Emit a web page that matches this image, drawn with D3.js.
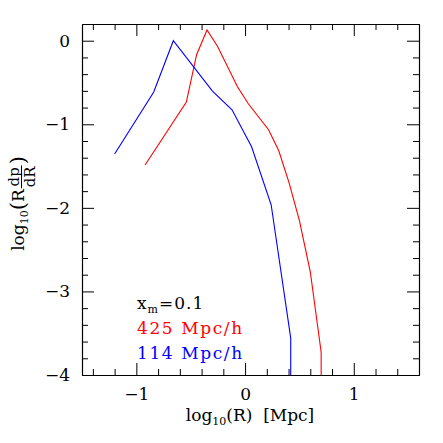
<!DOCTYPE html>
<html>
<head>
<meta charset="utf-8">
<script src="https://cdn.jsdelivr.net/npm/d3@7"></script>
<style>
  html, body { margin: 0; padding: 0; background: #fff; }
  text { font-family: "DejaVu Serif", "Liberation Serif", serif; fill: #000; }
</style>
</head>
<body>
<svg id="chart" width="443" height="443"></svg>
<script>
// ---- data ----
const redX  = [-0.92, -0.54, -0.446, -0.35, -0.255, -0.07, 0.03, 0.216, 0.31, 0.405, 0.50, 0.60, 0.70, 0.70];
const redY  = [-1.488, -0.734, -0.168, 0.128, -0.063, -0.551, -0.754, -1.065, -1.317, -1.70, -2.154, -2.765, -3.728, -4.0];
const blueX = [-1.2, -0.84, -0.66, -0.30, -0.12, 0.06, 0.24, 0.42, 0.42];
const blueY = [-1.356, -0.614, 0.0, -0.604, -0.826, -1.269, -1.963, -3.558, -4.0];
const xMajorTicks = [-1, 0, 1];
const xMinorTicks = [-1.4, -1.2, -0.8, -0.6, -0.4, -0.2, 0.2, 0.4, 0.6, 0.8, 1.2, 1.4];
const yMajorTicks = [-4, -3, -2, -1, 0];
const yMinorTicks = [-3.8, -3.6, -3.4, -3.2, -2.8, -2.6, -2.4, -2.2, -1.8, -1.6, -1.4, -1.2, -0.8, -0.6, -0.4, -0.2];
const legendLines = [
  { label: "425 Mpc/h", color: "#ff0000" },
  { label: "114 Mpc/h", color: "#0000ff" }
];
const seriesColors = ["#ff0000", "#0000ff"];

// ---- layout ----
const svg = d3.select("#chart");
const L = 82, R = 419, T = 24, B = 375;
const x = d3.scaleLinear().domain([-1.5, 1.6]).range([L, R]);
const y = d3.scaleLinear().domain([-4, 0.2]).range([B, T]);
const fmt = d => (d < 0 ? "\u2212" + Math.abs(d) : String(d));

function styleAxis(g) {
  g.selectAll("path.domain").attr("stroke", "#000").attr("stroke-width", 1.1);
  g.selectAll(".tick line").attr("stroke", "#000").attr("stroke-width", 1);
  g.selectAll(".tick text").style("font-family", '"DejaVu Serif", serif').style("font-size", "17px").attr("fill", "#000");
}

// bottom
svg.append("g").attr("transform", `translate(0,${B})`)
  .call(d3.axisBottom(x).tickValues(xMajorTicks).tickSizeInner(-12).tickSizeOuter(0).tickPadding(13).tickFormat(fmt))
  .call(styleAxis);
svg.append("g").attr("transform", `translate(0,${B})`)
  .call(d3.axisBottom(x).tickValues(xMinorTicks).tickSizeInner(-6).tickSizeOuter(0).tickFormat(""))
  .call(styleAxis);
// top
svg.append("g").attr("transform", `translate(0,${T})`)
  .call(d3.axisTop(x).tickValues(xMajorTicks).tickSizeInner(-12).tickSizeOuter(0).tickFormat(""))
  .call(styleAxis);
svg.append("g").attr("transform", `translate(0,${T})`)
  .call(d3.axisTop(x).tickValues(xMinorTicks).tickSizeInner(-6).tickSizeOuter(0).tickFormat(""))
  .call(styleAxis);
// left
svg.append("g").attr("transform", `translate(${L},0)`)
  .call(d3.axisLeft(y).tickValues(yMajorTicks).tickSizeInner(-12).tickSizeOuter(0).tickPadding(12).tickFormat(fmt))
  .call(styleAxis);
svg.append("g").attr("transform", `translate(${L},0)`)
  .call(d3.axisLeft(y).tickValues(yMinorTicks).tickSizeInner(-6).tickSizeOuter(0).tickFormat(""))
  .call(styleAxis);
// right
svg.append("g").attr("transform", `translate(${R},0)`)
  .call(d3.axisRight(y).tickValues(yMajorTicks).tickSizeInner(-12).tickSizeOuter(0).tickFormat(""))
  .call(styleAxis);
svg.append("g").attr("transform", `translate(${R},0)`)
  .call(d3.axisRight(y).tickValues(yMinorTicks).tickSizeInner(-6).tickSizeOuter(0).tickFormat(""))
  .call(styleAxis);

// ---- lines ----
svg.append("clipPath").attr("id", "clip").append("rect")
  .attr("x", L).attr("y", T).attr("width", R - L).attr("height", B - T);
const line = d3.line().x(d => x(d[0])).y(d => y(d[1]));
const series = [d3.zip(redX, redY), d3.zip(blueX, blueY)];
svg.append("g").attr("clip-path", "url(#clip)").selectAll("path")
  .data(series).join("path")
  .attr("d", line)
  .attr("fill", "none")
  .attr("stroke", (d, i) => seriesColors[i])
  .attr("stroke-width", 1.1);

// ---- legend text ----
const lx = 137;
const xm = svg.append("text").attr("x", lx).attr("y", 309)
  .style("font-size", "17px").style("letter-spacing", "1px");
xm.append("tspan").text("x");
xm.append("tspan").attr("dy", 4).style("font-size", "11px").text("m");
xm.append("tspan").attr("dy", -4).text("=0.1");
svg.selectAll("text.leg").data(legendLines).join("text")
  .attr("class", "leg")
  .attr("x", lx).attr("y", (d, i) => 334 + i * 24.5)
  .style("font-size", "17px").style("letter-spacing", "1.6px")
  .attr("fill", d => d.color)
  .style("fill", d => d.color)
  .text(d => d.label);

// ---- x axis title ----
const xt = svg.append("text").attr("x", 250).attr("y", 421)
  .attr("text-anchor", "middle").style("font-size", "17px");
xt.append("tspan").text("log");
xt.append("tspan").attr("dy", 4).style("font-size", "11px").text("10");
xt.append("tspan").attr("dy", -4).text("(R)\u00a0\u00a0[Mpc]");

// ---- y axis title ----
const yt = svg.append("g");
let cx = 0;
function piece(str, size, dy) {
  const t = yt.append("text").attr("x", cx).attr("y", dy).style("font-size", size + "px").text(str);
  cx += t.node().getComputedTextLength();
  return t;
}
piece("log", 17, 0);
piece("10", 11, 4);
piece("(", 21, 1);
piece("R", 17, 0);
const fx = cx + 1;
const tdp = yt.append("text").attr("y", -5).style("font-size", "15px").attr("text-anchor", "middle").text("dp");
const tdR = yt.append("text").attr("y", 11).style("font-size", "15px").attr("text-anchor", "middle").text("dR");
const fw = Math.max(tdp.node().getComputedTextLength(), tdR.node().getComputedTextLength()) + 2;
tdp.attr("x", fx + fw / 2);
tdR.attr("x", fx + fw / 2);
yt.append("line").attr("x1", fx).attr("x2", fx + fw).attr("y1", -2).attr("y2", -2)
  .attr("stroke", "#000").attr("stroke-width", 1);
cx = fx + fw + 1;
piece(")", 21, 1);
yt.attr("transform", `translate(23.5,${203.5 + cx / 2}) rotate(-90)`);
</script>
</body>
</html>
